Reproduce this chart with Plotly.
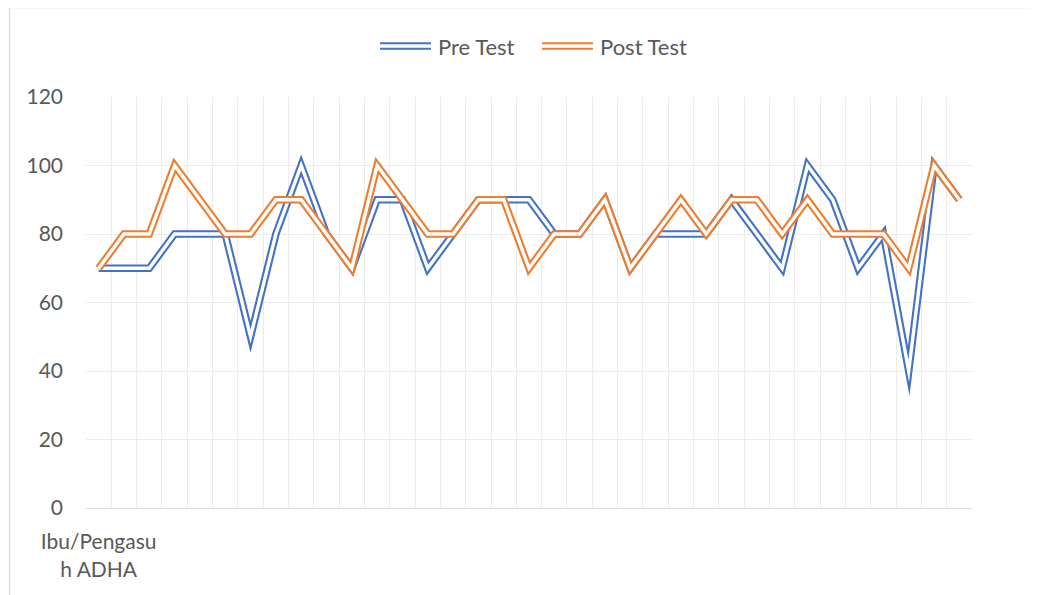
import plotly.graph_objects as go

# ---------------- data ----------------
categories = ["Ibu/Pengasuh ADHA"] + [""] * 34
pre_test = [70, 70, 70, 80, 80, 80, 50, 80, 100, 80, 70, 90, 90, 70, 80, 90, 90, 90,
            80, 80, 90, 70, 80, 80, 80, 90, 80, 70, 100, 90, 70, 80, 40, 100, 90]
post_test = [70, 80, 80, 100, 90, 80, 80, 90, 90, 80, 70, 100, 90, 80, 80, 90, 90, 70,
             80, 80, 90, 70, 80, 90, 80, 90, 90, 80, 90, 80, 80, 80, 70, 100, 90]
y_ticks = [0, 20, 40, 60, 80, 100, 120]
series_names = ["Pre Test", "Post Test"]
series_values = [pre_test, post_test]
series_colors = ["#4472C4", "#ED7D31"]

# ---------------- layout geometry ----------------
OFF = 8  # page body margin
W, H = 1038 - OFF, 595 - OFF
L, R, T, B = 86 - OFF, 66, 97 - OFF, 87
FONT = "Lato"
TXT = "#595959"
OUTER_W, INNER_W = 7.6, 3.4


def px_x(px):
    return (px - OFF - L) / (W - L - R)


def px_y(py):
    return (H - B - (py - OFF)) / (H - T - B)


x = list(range(len(categories)))


def wrap(label, n=11):
    return label if len(label) <= n else label[:n] + "<br>" + label[n:]


fig = go.Figure()
for name, vals, col in zip(series_names, series_values, series_colors):
    fig.add_trace(go.Scatter(x=x, y=vals, mode="lines", name=name,
                             line=dict(color=col, width=OUTER_W),
                             showlegend=False, hoverinfo="skip"))
    fig.add_trace(go.Scatter(x=x, y=vals, mode="lines", name=name,
                             line=dict(color="white", width=INNER_W),
                             showlegend=False, hoverinfo="skip"))

# manual legend with double-line symbols
shapes = []
annotations = []
legend_pos = [(380, 431, 436), (542, 593, 598)]
for (x0, x1, tx), name, col in zip(legend_pos, series_names, series_colors):
    shapes.append(dict(type="line", xref="paper", yref="paper",
                       x0=px_x(x0), x1=px_x(x1), y0=px_y(46), y1=px_y(46),
                       line=dict(color=col, width=OUTER_W), layer="above"))
    shapes.append(dict(type="line", xref="paper", yref="paper",
                       x0=px_x(x0 - 1), x1=px_x(x1 + 1), y0=px_y(46), y1=px_y(46),
                       line=dict(color="white", width=INNER_W), layer="above"))
    annotations.append(dict(xref="paper", yref="paper", x=px_x(tx), y=px_y(46),
                            text=name, showarrow=False, xanchor="left",
                            yanchor="middle", font=dict(family=FONT, size=22, color=TXT)))

# chart-area border
shapes.append(dict(type="rect", xref="paper", yref="paper",
                   x0=px_x(9.5), x1=px_x(1200), y0=px_y(7.5), y1=px_y(800),
                   line=dict(color="#D9D9D9", width=1.3), fillcolor="rgba(0,0,0,0)",
                   layer="below"))

fig.update_layout(
    width=W, height=H,
    margin=dict(l=L, r=R, t=T, b=B),
    paper_bgcolor="white", plot_bgcolor="white",
    font=dict(family=FONT, size=21, color=TXT),
    shapes=shapes, annotations=annotations,
    showlegend=False,
)

fig.update_xaxes(
    range=[-0.5, len(categories) - 0.5],
    tickmode="array", tickvals=x, ticktext=[wrap(c) for c in categories],
    showgrid=False, zeroline=False,
    showline=True, linecolor="#D9D9D9", linewidth=1.3,
    ticks="", ticklabelstandoff=15,
    tickfont=dict(family=FONT, size=21, color=TXT),
    minor=dict(tickvals=[i - 0.5 for i in range(len(categories) + 1)],
               showgrid=True, gridcolor="#ECECEC", gridwidth=1.2, ticks=""),
)
fig.update_yaxes(
    range=[0, 120], tickmode="array", tickvals=y_ticks,
    showgrid=True, gridcolor="#ECECEC", gridwidth=1.2,
    zeroline=False, showline=False, ticks="",
    ticklabelstandoff=22,
    tickfont=dict(family=FONT, size=21, color=TXT),
)

# sharp (mitered) joins like the original double lines
post_js = ("var gd=document.getElementById('{plot_id}');"
           "function sharpen(){gd.querySelectorAll('path.js-line').forEach(function(p){"
           "p.style.strokeMiterlimit='12';p.style.strokeLinejoin='miter';});}"
           "sharpen();gd.on('plotly_afterplot',sharpen);")
fig.write_html("out.html", post_script=post_js)
